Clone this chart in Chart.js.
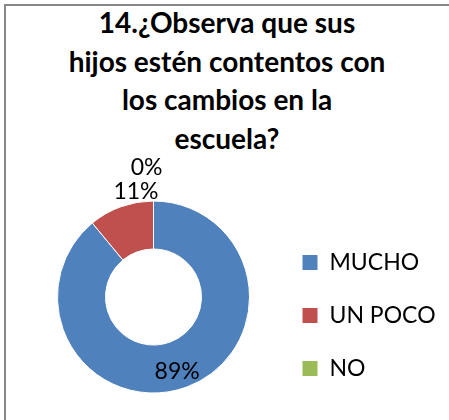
<!DOCTYPE html>
<html>
<head>
<meta charset="utf-8">
<script src="https://cdn.jsdelivr.net/npm/chart.js@4.4.1/dist/chart.umd.min.js"></script>
<style>
    html, body { margin: 0; padding: 0; background: #fff; overflow: hidden; }
    #frame {
        position: absolute; left: 4px; top: 4px; width: 470px; height: 440px;
        border-left: 2px solid #878787; border-top: 2px solid #878787;
    }
    #title {
        position: absolute; left: 0; top: 3px; width: 454px; text-align: center;
        font-family: Lato, sans-serif; font-weight: bold; font-size: 28px; line-height: 38.7px;
        color: #000;
    }
    #wrap { position: absolute; left: 0; top: 0; width: 449px; height: 420px; }
</style>
</head>
<body>
<div id="frame"></div>
<div id="title"></div>
<div id="wrap"><canvas id="chart"></canvas></div>
<script>
// Data
const titleLines = ['14.¿Observa que sus', 'hijos estén contentos con', 'los cambios en la', 'escuela?'];
const categories = ['MUCHO', 'UN POCO', 'NO'];
const values = [89, 11, 0];
const colors = ['#4F81BD', '#C0504D', '#9BBB59'];

document.getElementById('title').innerHTML = titleLines.join('<br>');

const labelFont = '23px Lato';
const legendPadding = 30;
const legendBox = 16;

// legend width as chart.js computes it, so the boxes land where the reference has them
const measure = document.createElement('canvas').getContext('2d');
measure.font = labelFont;
const widest = Math.max(...categories.map(c => measure.measureText(c).width));
const legendWidth = legendPadding + legendBox + 11.5 + widest + 10;
const rightPad = 449 - 272 - legendWidth;

// percentage labels: big slices inside the ring, small ones stacked above the slice end
const pctLabels = {
    id: 'pctLabels',
    afterDatasetsDraw(chart) {
        const ctx = chart.ctx;
        const meta = chart.getDatasetMeta(0);
        const total = values.reduce((a, b) => a + b, 0);
        let stack = 0;
        ctx.save();
        ctx.font = labelFont;
        ctx.fillStyle = '#000';
        meta.data.forEach((arc, i) => {
            const text = Math.round(values[i] / total * 100) + '%';
            const { x, y, startAngle, endAngle, innerRadius, outerRadius } = arc.getProps(
                ['x', 'y', 'startAngle', 'endAngle', 'innerRadius', 'outerRadius'], true);
            if (values[i] / total >= 0.15) {
                const mid = (startAngle + endAngle) / 2;
                const r = innerRadius + (outerRadius - innerRadius) * 0.64;
                ctx.textAlign = 'center';
                ctx.textBaseline = 'middle';
                ctx.fillText(text, x + Math.cos(mid) * r - 3, y + Math.sin(mid) * r + 1);
            } else {
                const px = x + Math.cos(endAngle) * outerRadius;
                const py = y + Math.sin(endAngle) * outerRadius;
                ctx.textAlign = 'right';
                ctx.textBaseline = 'bottom';
                ctx.fillText(text, px + 5 + stack * 4, py + 2 - stack * 24);
                stack++;
            }
        });
        ctx.restore();
    }
};

new Chart(document.getElementById('chart'), {
    type: 'doughnut',
    data: {
        labels: categories,
        datasets: [{
            data: values,
            backgroundColor: colors,
            borderColor: '#fff',
            borderWidth: 1,
            radius: 96,
            cutout: '50%'
        }]
    },
    options: {
        responsive: true,
        maintainAspectRatio: false,
        animation: false,
        events: [],
        layout: { padding: { left: 35, right: rightPad, top: 184, bottom: 10 } },
        plugins: {
            title: { display: false },
            legend: {
                position: 'right',
                align: 'end',
                labels: {
                    boxWidth: legendBox,
                    boxHeight: legendBox,
                    padding: legendPadding,
                    color: '#000',
                    font: { family: 'Lato', size: 23 }
                }
            },
            tooltip: { enabled: false }
        }
    },
    plugins: [pctLabels]
});
</script>
</body>
</html>
